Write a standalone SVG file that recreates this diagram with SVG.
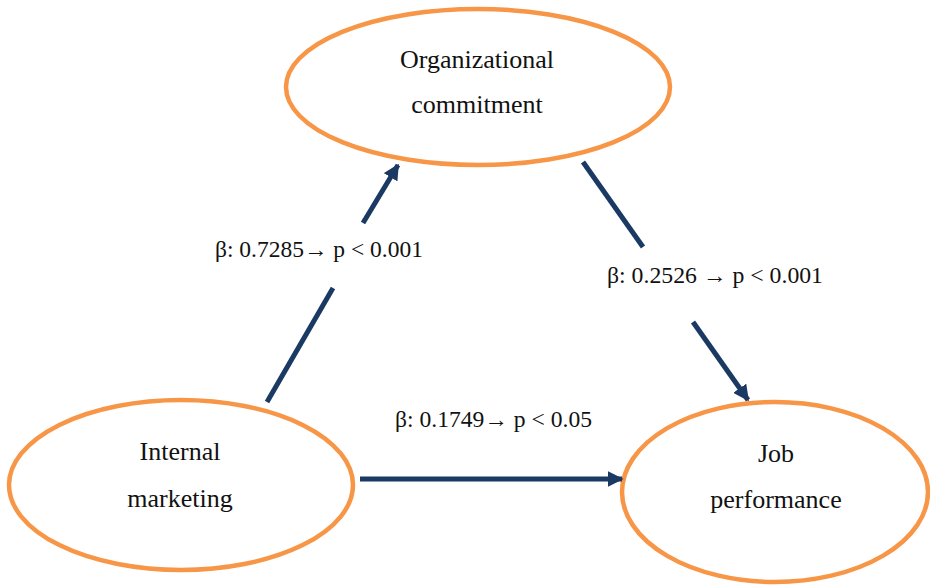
<svg xmlns="http://www.w3.org/2000/svg" width="930" height="585" viewBox="0 0 930 585">
<defs>
<marker id="ah" viewBox="0 0 10 10" refX="9" refY="5" markerWidth="16" markerHeight="16" markerUnits="userSpaceOnUse" orient="auto">
<path d="M0,0 L10,5 L0,10 z" fill="#1b3a63"/>
</marker>
</defs>
<style>
.node ellipse{fill:#fff;stroke:#f79646;stroke-width:4.5}
.t{font-family:"Liberation Serif","Times New Roman",serif;font-size:26px;fill:#111;text-anchor:middle}
.lbl{font-family:"Liberation Serif","Times New Roman",serif;font-size:23px;fill:#111}
.c line{stroke:#1b3a63;stroke-width:5}
</style>
<rect width="930" height="585" fill="#fff"/>
<g id="organizational-commitment" class="node">
<ellipse cx="478" cy="87" rx="192" ry="78"/>
<text class="t" x="477" y="68">Organizational</text>
<text class="t" x="477" y="113">commitment</text>
</g>
<g id="internal-marketing" class="node">
<ellipse cx="181" cy="485" rx="172" ry="85"/>
<text class="t" x="180" y="460">Internal</text>
<text class="t" x="180" y="507">marketing</text>
</g>
<g id="job-performance" class="node">
<ellipse cx="775" cy="492" rx="153" ry="90"/>
<text class="t" x="776" y="462">Job</text>
<text class="t" x="776" y="508">performance</text>
</g>
<g id="connectors" class="c">
<line x1="267" y1="402" x2="333" y2="288"/>
<line x1="363" y1="223" x2="398" y2="165" marker-end="url(#ah)"/>
<line x1="583" y1="162" x2="643" y2="247"/>
<line x1="693" y1="322" x2="748" y2="400" marker-end="url(#ah)"/>
<line x1="360" y1="479" x2="622" y2="479" marker-end="url(#ah)"/>
</g>
<g id="labels">
<text class="lbl" x="215" y="257" textLength="208" lengthAdjust="spacingAndGlyphs">β: 0.7285→ p &lt; 0.001</text>
<text class="lbl" x="607" y="283" textLength="216" lengthAdjust="spacingAndGlyphs">β: 0.2526 → p &lt; 0.001</text>
<text class="lbl" x="395" y="427" textLength="197" lengthAdjust="spacingAndGlyphs">β: 0.1749→ p &lt; 0.05</text>
</g>
</svg>
